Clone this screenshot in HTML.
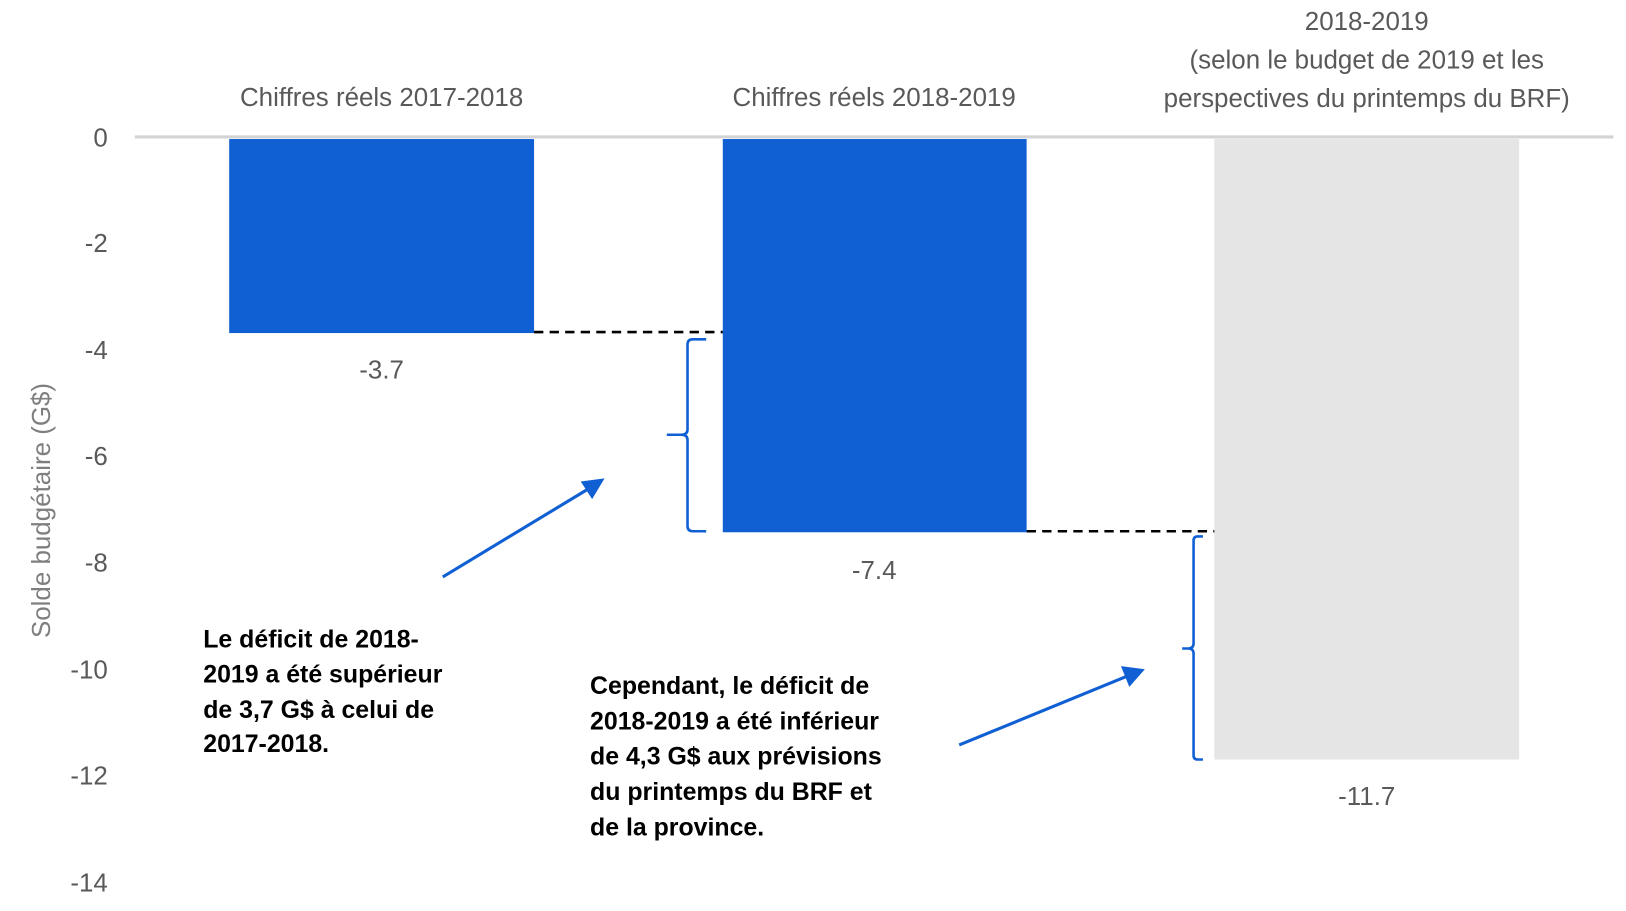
<!DOCTYPE html>
<html><head><meta charset="utf-8"><style>html,body{margin:0;padding:0;background:#fff;}svg{display:block}</style></head>
<body>
<svg width="1626" height="911" viewBox="0 0 1568 878" preserveAspectRatio="none" xmlns="http://www.w3.org/2000/svg" font-family="Liberation Sans, sans-serif">
<rect x="221" y="134" width="294" height="187" fill="#1060d4"/>
<rect x="697" y="134" width="293" height="379" fill="#1060d4"/>
<rect x="1171" y="134" width="294" height="598" fill="#e5e5e5"/>
<line x1="130" y1="132" x2="1556" y2="132" stroke="#d4d4d4" stroke-width="3"/>
<g fill="#595959" font-size="25" text-anchor="end">
<text x="104" y="141">0</text><text x="104" y="243">-2</text><text x="104" y="346">-4</text><text x="104" y="448">-6</text><text x="104" y="551">-8</text><text x="104" y="654">-10</text><text x="104" y="756">-12</text><text x="104" y="859">-14</text>
</g>
<text transform="translate(48,492) rotate(-90)" fill="#7f7f7f" font-size="25" text-anchor="middle">Solde budgétaire (G$)</text>
<g fill="#595959" font-size="25" text-anchor="middle">
<text x="368" y="102">Chiffres réels 2017-2018</text>
<text x="843" y="102">Chiffres réels 2018-2019</text>
<text x="1318" y="29">2018-2019</text>
<text x="1318" y="66">(selon le budget de 2019 et les</text>
<text x="1318" y="103">perspectives du printemps du BRF)</text>
<text x="368" y="365">-3.7</text>
<text x="843" y="558">-7.4</text>
<text x="1318" y="776">-11.7</text>
</g>
<line x1="515" y1="320" x2="697" y2="320" stroke="#000" stroke-width="2.5" stroke-dasharray="9,6"/>
<line x1="990" y1="512" x2="1171" y2="512" stroke="#000" stroke-width="2.5" stroke-dasharray="9,6"/>
<path d="M681,327 L668,327 Q663,327 663,332 L663,414 Q663,419 657,419 L643,419 M657,419 Q663,419 663,424 L663,507 Q663,512 668,512 L681,512" fill="none" stroke="#1060d4" stroke-width="2.5"/>
<path d="M1160,517 L1155,517 Q1151,517 1151,521 L1151,620 Q1151,625 1146,625 L1140,625 M1146,625 Q1151,625 1151,630 L1151,728 Q1151,732 1155,732 L1160,732" fill="none" stroke="#1060d4" stroke-width="2.5"/>
<line x1="427" y1="556" x2="566" y2="472" stroke="#1060d4" stroke-width="3"/>
<polygon points="583,461 560,464 571,481" fill="#1060d4"/>
<line x1="925" y1="718" x2="1086" y2="652" stroke="#1060d4" stroke-width="3"/>
<polygon points="1104,645 1081,642 1089,662" fill="#1060d4"/>
<g font-size="24" font-weight="bold" fill="#000">
<text x="196" y="624">Le déficit de 2018-</text>
<text x="196" y="658">2019 a été supérieur</text>
<text x="196" y="692">de 3,7 G$ à celui de</text>
<text x="196" y="725">2017-2018.</text>
<text x="569" y="669">Cependant, le déficit de</text>
<text x="569" y="703">2018-2019 a été inférieur</text>
<text x="569" y="737">de 4,3 G$ aux prévisions</text>
<text x="569" y="771">du printemps du BRF et</text>
<text x="569" y="805">de la province.</text>
</g>
</svg>
</body></html>
